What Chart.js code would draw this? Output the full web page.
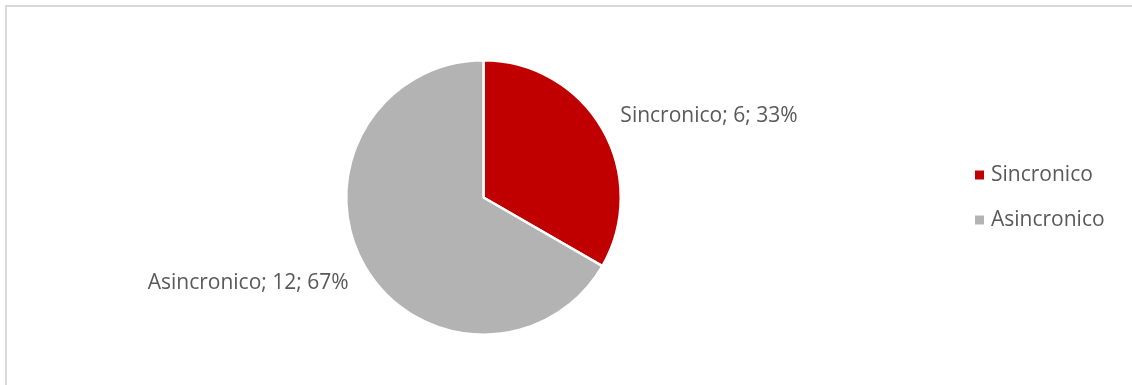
<!DOCTYPE html>
<html>
<head>
<meta charset="utf-8">
<script src="https://cdn.jsdelivr.net/npm/chart.js@4"></script>
<style>
  html, body { margin: 0; padding: 0; background: #ffffff; }
  #wrap { position: relative; width: 1132px; height: 385px; overflow: hidden; background: #fff; }
  #frame { position: absolute; left: 5px; top: 5px; width: 1200px; height: 400px;
           border-top: 2px solid #d9d9d9; border-left: 2px solid #d9d9d9; box-sizing: border-box; }
  canvas { position: absolute; left: 0; top: 0; }
</style>
</head>
<body>
<div id="wrap">
  <div id="frame"></div>
  <canvas id="c" width="1132" height="385"></canvas>
</div>
<script>
const categories = ["Sincronico", "Asincronico"];
const values = [6, 12];
const percentLabels = ["33%", "67%"];
const colors = ["#C00000", "#B3B3B3"];

const FONT = '21px "Open Sans", "DejaVu Sans", sans-serif';
const TEXT = '#595959';

const labelPlugin = {
  id: 'sliceLabels',
  afterDatasetsDraw(chart) {
    const ctx = chart.ctx;
    const meta = chart.getDatasetMeta(0);
    ctx.save();
    ctx.font = FONT;
    ctx.fillStyle = TEXT;
    ctx.textBaseline = 'middle';
    meta.data.forEach((arc, i) => {
      const p = arc.getProps(['x', 'y', 'startAngle', 'endAngle', 'outerRadius'], true);
      const mid = (p.startAngle + p.endAngle) / 2;
      const cx = p.x + Math.cos(mid) * p.outerRadius;
      const cy = p.y + Math.sin(mid) * p.outerRadius;
      const right = Math.cos(mid) >= 0;
      const down = Math.sin(mid) >= 0;
      const tx = cx + (right ? 18 : -16);
      const ty = cy + (down ? 17 : -13);
      ctx.textAlign = right ? 'left' : 'right';
      ctx.fillText(categories[i] + '; ' + values[i] + '; ' + percentLabels[i], tx, ty);
    });
    ctx.restore();
  }
};

const legendPlugin = {
  id: 'customLegend',
  afterDraw(chart) {
    const ctx = chart.ctx;
    ctx.save();
    ctx.font = FONT;
    ctx.textBaseline = 'middle';
    ctx.textAlign = 'left';
    categories.forEach((name, i) => {
      const y = 175 + i * 45;
      ctx.fillStyle = colors[i];
      ctx.fillRect(975, y - 4.5, 9, 9);
      ctx.fillStyle = TEXT;
      ctx.fillText(name, 991, y);
    });
    ctx.restore();
  }
};

new Chart(document.getElementById('c'), {
  type: 'pie',
  data: {
    labels: categories,
    datasets: [{
      data: values,
      backgroundColor: colors,
      borderColor: '#ffffff',
      borderWidth: 2.5
    }]
  },
  options: {
    responsive: false,
    animation: false,
    devicePixelRatio: 1,
    layout: { padding: { left: 345, right: 510, top: 59, bottom: 49 } },
    plugins: {
      legend: { display: false },
      tooltip: { enabled: false }
    }
  },
  plugins: [labelPlugin, legendPlugin]
});
</script>
</body>
</html>
